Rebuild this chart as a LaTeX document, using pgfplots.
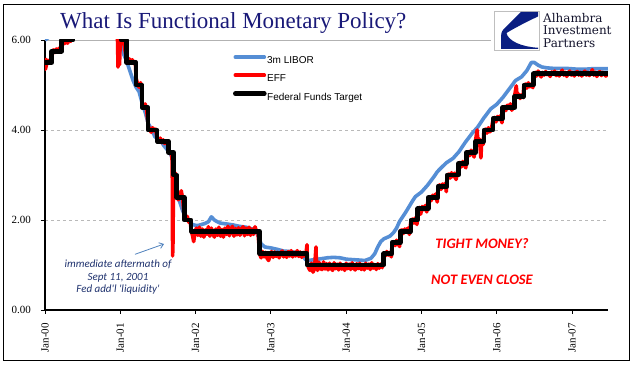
\documentclass[border=0pt]{standalone}
\usepackage{pgfplots}
\pgfplotsset{compat=1.18}
\usepackage{fontspec}
\usetikzlibrary{arrows.meta}
\setmainfont{Liberation Serif}
\newfontfamily\legfont{Liberation Sans}
\newfontfamily\calfont{Carlito}
\newfontfamily\logofont{DejaVu Serif}
\definecolor{libor}{RGB}{85,142,213}
\definecolor{titlecol}{RGB}{25,25,120}
\definecolor{annot}{RGB}{31,50,110}
\definecolor{arrowcol}{RGB}{79,129,189}
\definecolor{logonavy}{RGB}{10,30,130}
\definecolor{logotext}{RGB}{20,20,45}
\begin{document}
\begin{tikzpicture}[x=1pt,y=1pt]
\useasboundingbox (0,0) rectangle (641,375);
\draw[black, line width=1.2pt] (3.5,14.7) rectangle (629.3,370.7);
\begin{axis}[
  at={(45pt,65pt)}, anchor=south west, scale only axis,
  width=563pt, height=270pt,
  xmin=0, xmax=7.478, ymin=0, ymax=6,
  axis x line*=bottom, axis y line*=left,
  axis line style={black, line width=1.2pt, -},
  xtick={0,1,2,3,4,5,6,7},
  xticklabels={Jan-00,Jan-01,Jan-02,Jan-03,Jan-04,Jan-05,Jan-06,Jan-07},
  ytick={0,2,4,6},
  yticklabels={0.00,2.00,4.00,6.00},
  tick align=outside, major tick length=4pt,
  tick style={black, line width=0.8pt},
  ymajorgrids, grid style={gray!55, dashed, line width=0.5pt},
  /pgf/number format/assume math mode=true,
  xticklabel style={yshift=-9pt, rotate=90, anchor=east, inner sep=0pt, font=\fontsize{11}{12}\selectfont},
  yticklabel style={xshift=-10pt, anchor=east, inner sep=0pt, font=\fontsize{11}{12}\selectfont},
  legend style={draw=none, fill=none, inner sep=0pt, outer sep=0pt,
    at={(rel axis cs:0.334,0.943)}, anchor=north west,
    font=\legfont\fontsize{10}{12}\selectfont, row sep=8pt,
    nodes={inner sep=0.5pt}},
  legend cell align=left,
  legend image code/.code={\draw[#1, line cap=round] (0pt,3.5pt) -- (29pt,3.5pt);},
  line join=round,
]
\draw[gray!60, line width=0.8pt] (rel axis cs:0,1) -- (rel axis cs:1,1) -- (rel axis cs:1,0);
% 3m LIBOR
\addplot[color=libor, line width=3.6pt] coordinates {
(0.00,6.00)(0.04,6.05)(0.08,6.10)(0.12,6.12)(0.17,6.15)(0.21,6.25)(0.25,6.30)(0.33,6.60)(0.42,6.80)(0.50,6.80)(0.58,6.75)(0.67,6.75)(0.75,6.80)(0.83,6.75)(0.92,6.60)(0.98,6.40)
(1.01,5.95)(1.04,5.70)(1.08,5.55)(1.12,5.35)(1.17,5.10)(1.21,4.95)(1.25,4.85)(1.29,4.60)(1.33,4.40)(1.37,4.15)(1.42,4.00)(1.46,3.85)(1.50,3.80)(1.54,3.75)(1.58,3.65)(1.63,3.55)(1.67,3.45)(1.69,3.40)(1.71,3.00)(1.75,2.55)(1.79,2.40)(1.83,2.20)(1.87,2.05)(1.92,1.95)(1.96,1.90)
(2.00,1.88)(2.04,1.88)(2.08,1.90)(2.12,1.92)(2.17,1.96)(2.21,2.07)(2.25,2.00)(2.29,1.96)(2.33,1.93)(2.42,1.91)(2.50,1.89)(2.58,1.86)(2.67,1.84)(2.75,1.80)(2.80,1.76)(2.83,1.65)(2.87,1.47)(2.92,1.40)
(3.00,1.38)(3.08,1.35)(3.17,1.31)(3.25,1.30)(3.33,1.28)(3.42,1.22)(3.46,1.12)(3.50,1.10)(3.58,1.12)(3.67,1.14)(3.75,1.16)(3.83,1.17)(3.92,1.16)
(4.00,1.13)(4.08,1.12)(4.17,1.11)(4.25,1.10)(4.33,1.15)(4.38,1.25)(4.42,1.40)(4.46,1.52)(4.50,1.58)(4.58,1.64)(4.63,1.72)(4.67,1.82)(4.71,1.97)(4.75,2.07)(4.79,2.17)(4.83,2.28)(4.88,2.42)(4.92,2.52)
(5.00,2.62)(5.08,2.77)(5.17,2.97)(5.21,3.07)(5.25,3.14)(5.33,3.27)(5.42,3.37)(5.50,3.52)(5.58,3.72)(5.67,3.92)(5.75,4.07)(5.83,4.27)(5.92,4.47)
(6.00,4.57)(6.08,4.72)(6.17,4.92)(6.25,5.10)(6.33,5.18)(6.40,5.32)(6.46,5.50)(6.50,5.50)(6.55,5.44)(6.60,5.40)(6.67,5.38)(6.75,5.37)(6.83,5.37)(6.92,5.37)
(7.00,5.36)(7.08,5.35)(7.17,5.35)(7.25,5.36)(7.33,5.36)(7.48,5.36)
};
\addlegendentry{3m LIBOR}
% EFF
\addplot[color=red, line width=3.6pt] coordinates {
(0.000,5.60)(0.005,5.35)(0.02,5.45)(0.04,5.55)(0.06,5.50)(0.08,5.58)(0.09,5.70)(0.11,5.78)(0.13,5.72)(0.15,5.80)(0.17,5.74)(0.19,5.82)(0.21,5.76)(0.22,5.95)(0.24,6.02)(0.26,5.92)(0.28,5.98)(0.30,5.93)(0.32,6.02)(0.34,5.97)(0.37,6.45)
(0.45,6.55)(0.55,6.50)(0.65,6.55)(0.75,6.48)(0.85,6.52)(0.95,6.45)(0.96,6.30)(0.97,5.40)(0.98,5.70)(0.99,5.45)(1.00,6.00)
(1.02,5.95)(1.05,5.90)(1.08,5.60)(1.10,5.55)(1.12,5.58)(1.14,5.50)(1.16,5.56)(1.18,5.48)(1.20,5.52)(1.21,5.15)(1.23,5.02)(1.25,4.95)(1.27,5.05)(1.285,4.90)(1.29,4.55)(1.31,4.50)(1.33,4.58)(1.35,4.45)(1.37,4.10)(1.39,4.02)(1.41,3.95)(1.43,4.05)(1.45,3.98)(1.47,4.02)(1.49,3.80)(1.51,3.75)(1.53,3.82)(1.55,3.72)(1.57,3.78)(1.59,3.70)(1.61,3.76)(1.63,3.68)(1.64,3.55)(1.66,3.50)(1.68,3.45)(1.69,3.30)(1.695,1.20)(1.70,1.50)(1.705,2.50)(1.71,2.90)(1.73,3.05)(1.745,2.85)(1.75,2.55)(1.77,2.45)(1.79,2.52)(1.81,2.65)(1.83,2.45)(1.85,2.05)(1.87,2.00)(1.89,2.08)(1.91,1.95)(1.93,2.00)(1.94,1.78)(1.96,1.65)(1.975,1.52)(1.99,1.70)
(2.01,1.82)(2.03,1.66)(2.05,1.84)(2.07,1.64)(2.09,1.80)(2.11,1.62)(2.13,1.78)(2.15,1.68)(2.17,1.85)(2.19,1.64)(2.21,1.82)(2.23,1.70)(2.25,1.62)(2.27,1.80)(2.29,1.66)(2.31,1.84)(2.33,1.64)(2.35,1.79)(2.37,1.62)(2.39,1.82)(2.41,1.68)(2.43,1.86)(2.45,1.65)(2.47,1.80)(2.49,1.86)(2.51,1.64)(2.53,1.81)(2.55,1.67)(2.57,1.83)(2.59,1.66)(2.61,1.79)(2.63,1.85)(2.65,1.65)(2.67,1.82)(2.69,1.68)(2.71,1.84)(2.73,1.66)(2.75,1.80)(2.77,1.68)(2.79,1.85)(2.81,1.74)(2.83,1.70)
(2.85,1.25)(2.87,1.16)(2.89,1.30)(2.91,1.18)(2.93,1.28)(2.95,1.15)(2.97,1.10)(2.99,1.22)(3.01,1.30)(3.03,1.17)(3.05,1.29)(3.07,1.19)(3.09,1.28)(3.11,1.16)(3.13,1.27)(3.15,1.31)(3.17,1.18)(3.19,1.28)(3.21,1.17)(3.23,1.30)(3.25,1.20)(3.27,1.32)(3.29,1.18)(3.31,1.28)(3.33,1.20)(3.35,1.32)(3.37,1.19)(3.39,1.29)(3.41,1.17)(3.43,1.28)(3.45,1.20)(3.47,1.30)
(3.48,1.45)(3.485,1.05)(3.50,0.94)(3.52,0.88)(3.54,1.04)(3.56,0.84)(3.58,0.93)(3.60,1.40)(3.605,0.96)(3.62,0.88)(3.64,1.06)(3.66,0.92)(3.68,0.90)(3.70,1.07)(3.72,0.91)(3.74,1.03)(3.76,0.89)(3.78,1.04)(3.80,0.93)(3.82,0.88)(3.84,1.05)(3.86,0.92)(3.88,1.02)(3.90,0.89)(3.92,1.04)(3.94,0.91)(3.96,1.00)(3.98,0.88)
(4.00,1.04)(4.02,0.92)(4.04,1.02)(4.06,0.90)(4.08,1.05)(4.10,0.93)(4.12,0.89)(4.14,1.03)(4.16,0.92)(4.18,1.04)(4.20,0.90)(4.22,1.01)(4.24,0.89)(4.26,1.04)(4.28,0.93)(4.30,1.02)(4.32,0.90)(4.34,1.05)(4.36,0.93)(4.38,1.01)(4.40,0.90)(4.42,1.03)(4.44,0.93)(4.46,1.02)(4.48,0.94)
(4.50,1.25)(4.52,1.20)(4.54,1.30)(4.56,1.22)(4.58,1.28)(4.60,1.18)(4.61,1.48)(4.63,1.52)(4.65,1.43)(4.67,1.55)(4.69,1.48)(4.71,1.41)(4.72,1.75)(4.74,1.78)(4.76,1.70)(4.78,1.80)(4.80,1.74)(4.82,1.82)(4.84,1.68)(4.86,1.98)(4.88,2.02)(4.90,1.93)(4.92,2.05)(4.94,1.90)(4.95,2.22)(4.97,2.28)(4.99,2.13)
(5.01,2.30)(5.03,2.23)(5.05,2.32)(5.07,2.18)(5.09,2.48)(5.11,2.52)(5.13,2.43)(5.15,2.55)(5.17,2.48)(5.19,2.58)(5.21,2.40)(5.22,2.72)(5.24,2.78)(5.26,2.68)(5.28,2.80)(5.30,2.72)(5.32,2.82)(5.33,2.63)(5.34,2.98)(5.36,3.02)(5.38,2.93)(5.40,3.05)(5.42,2.96)(5.44,3.04)(5.46,2.90)(5.48,3.06)(5.49,3.22)(5.51,3.28)(5.53,3.18)(5.55,3.30)(5.57,3.22)(5.59,3.16)(5.60,3.48)(5.62,3.52)(5.64,3.43)(5.66,3.55)(5.68,3.48)(5.70,3.40)(5.72,3.78)(5.74,4.00)(5.75,3.72)(5.77,3.80)(5.79,3.38)(5.80,3.75)(5.82,3.68)(5.83,3.98)(5.85,4.02)(5.87,3.93)(5.89,4.05)(5.91,3.96)(5.93,4.03)(5.95,4.22)(5.97,4.28)(5.99,4.18)
(6.01,4.30)(6.03,4.23)(6.05,4.32)(6.07,4.16)(6.08,4.48)(6.10,4.52)(6.12,4.43)(6.14,4.55)(6.16,4.48)(6.18,4.58)(6.20,4.44)(6.22,4.52)(6.24,4.78)(6.26,4.98)(6.27,4.75)(6.29,4.80)(6.31,4.70)(6.33,4.78)(6.35,4.72)(6.36,4.98)(6.38,5.02)(6.40,4.93)(6.42,5.05)(6.44,4.96)(6.46,5.02)(6.48,4.94)(6.49,5.24)(6.51,5.28)(6.53,5.20)(6.55,5.31)(6.57,5.25)(6.59,5.18)(6.61,5.28)(6.63,5.22)(6.65,5.30)(6.67,5.23)(6.69,5.27)(6.71,5.19)(6.73,5.29)(6.75,5.24)(6.77,5.31)(6.79,5.21)(6.81,5.28)(6.83,5.20)(6.85,5.27)(6.87,5.33)(6.89,5.22)(6.91,5.28)(6.93,5.19)(6.95,5.27)(6.97,5.31)(6.99,5.22)
(7.01,5.28)(7.03,5.20)(7.05,5.27)(7.07,5.30)(7.09,5.22)(7.11,5.28)(7.13,5.20)(7.15,5.27)(7.17,5.31)(7.19,5.22)(7.21,5.28)(7.23,5.21)(7.25,5.27)(7.27,5.34)(7.29,5.22)(7.31,5.28)(7.33,5.19)(7.35,5.27)(7.37,5.30)(7.39,5.21)(7.41,5.28)(7.43,5.24)(7.45,5.20)(7.48,5.26)
};
\addlegendentry{EFF}
% Federal Funds Target
\addplot[color=black, line width=4.6pt, const plot mark left] coordinates {
(0.00,5.50)(0.09,5.75)(0.22,6.00)(0.37,6.50)(1.01,6.00)(1.08,5.50)(1.21,5.00)(1.29,4.50)(1.37,4.00)(1.49,3.75)(1.64,3.50)(1.71,3.00)(1.75,2.50)(1.85,2.00)(1.94,1.75)(2.85,1.25)(3.48,1.00)(4.50,1.25)(4.61,1.50)(4.72,1.75)(4.86,2.00)(4.95,2.25)(5.09,2.50)(5.22,2.75)(5.34,3.00)(5.49,3.25)(5.60,3.50)(5.72,3.75)(5.83,4.00)(5.95,4.25)(6.08,4.50)(6.24,4.75)(6.36,5.00)(6.49,5.25)(7.48,5.25)
};
\addlegendentry{Federal Funds Target}
\end{axis}
% title
\node[anchor=base west, inner sep=0pt, text=titlecol, font=\fontsize{23}{23}\selectfont] at (60,346.7) {What Is Functional Monetary Policy?};
% logo
\fill[white] (491,323) rectangle (618,366);
\draw[gray!50, line width=0.6pt] (494,325) rectangle (539.7,364);
\fill[logonavy] (521,363) -- (538,363) -- (538,358.5) .. controls (526,353) and (513,346) .. (506.5,342) .. controls (508,334) and (522,328) .. (538,327.3) -- (538,326) -- (501,326) -- (501,339) .. controls (501,342) and (502,344) .. (503,345) -- cycle;
\node[anchor=base west, inner sep=0pt, text=logotext, font=\logofont\fontsize{12}{12}\selectfont] at (543,352.7) {Alhambra};
\node[anchor=base west, inner sep=0pt, text=logotext, font=\logofont\fontsize{12}{12}\selectfont] at (543,340) {Investment};
\node[anchor=base west, inner sep=0pt, text=logotext, font=\logofont\fontsize{12}{12}\selectfont] at (543,327.3) {Partners};
% annotations
\node[align=center, inner sep=0pt, text=annot, font=\calfont\itshape\fontsize{11}{12.5}\selectfont] at (118,97.5) {immediate aftermath of\\Sept 11, 2001\\Fed add\textquotesingle l \textquotesingle liquidity\textquotesingle};
\draw[arrowcol, line width=0.8pt, -{Straight Barb[length=4pt,width=6pt]}] (135,120.7) -- (164,131);
\node[inner sep=0pt, text=red, font=\calfont\bfseries\itshape\fontsize{14.5}{15}\selectfont] at (482,131) {TIGHT MONEY?};
\node[inner sep=0pt, text=red, font=\calfont\bfseries\itshape\fontsize{14.5}{15}\selectfont] at (482,95) {NOT EVEN CLOSE};
\end{tikzpicture}
\end{document}
